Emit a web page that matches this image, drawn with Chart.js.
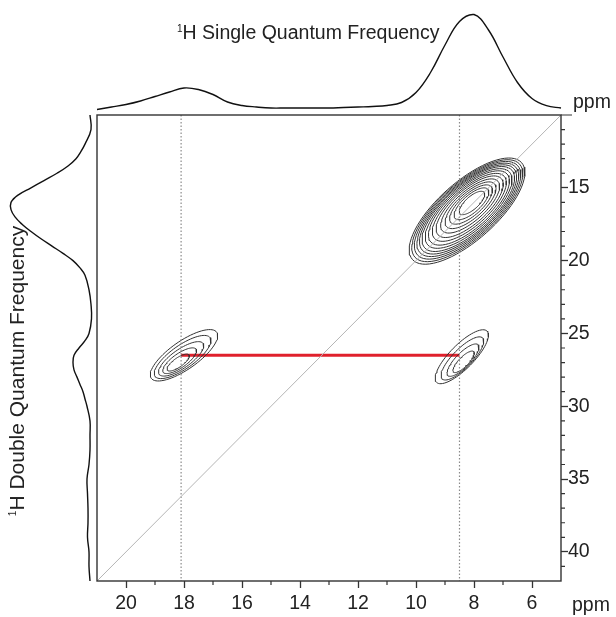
<!DOCTYPE html>
<html>
<head>
<meta charset="utf-8">
<script src="https://cdn.jsdelivr.net/npm/chart.js@4.4.1/dist/chart.umd.min.js"></script>
<style>
  body { margin: 0; background: #fff; }
  #wrap { position: relative; width: 616px; height: 617px; background: #fff; font-family: "Liberation Sans", Arial, sans-serif; color: #222; }
  canvas { position: absolute; left: 0; top: 0; }
  .lbl { position: absolute; font-size: 19.5px; line-height: 20px; white-space: nowrap; }
  .sup { font-size: 10px; vertical-align: top; line-height: 14px; }
</style>
</head>
<body>
<div id="wrap">
  <canvas id="topChart" width="616" height="115"></canvas>
  <canvas id="leftChart" width="100" height="617"></canvas>
  <canvas id="mainChart" width="616" height="617"></canvas>
  <div class="lbl" style="left:177px; top:22px;"><span class="sup">1</span>H Single Quantum Frequency</div>
  <div class="lbl" style="left:573px; top:91px;">ppm</div>
  <div class="lbl" style="left:572px; top:594px;">ppm</div>
  <div class="lbl" style="left:-143px; top:360px; width:320px; text-align:center; font-size:21px; line-height:22px; transform:rotate(-90deg);"><span class="sup">1</span>H Double Quantum Frequency</div>
</div>
<script>
// single quantum projection (top), ppm and intensity
const sqPpm = [5.0, 5.5, 6.0, 6.5, 7.0, 7.5, 8.0, 8.5, 9.0, 9.5, 10.0, 10.5, 11.0, 11.5, 12.0, 12.5, 13.0,
  13.5, 14.0, 14.5, 15.0, 15.5, 16.0, 16.5, 17.0, 17.5, 18.0, 18.5, 19.0, 19.5, 20.0, 20.5, 21.0];
const sqIntensity = [2, 4.3, 11.5, 27.5, 53, 80, 95.5, 88.5, 65, 37.5, 17.5, 7.5, 4.5, 3.5, 3, 2.5, 2,
  2, 2, 2, 2, 3, 4.5, 8, 15.5, 20.5, 22, 18, 13.5, 9, 5.5, 3, 0.5];

// double quantum projection (left)
const dqPpm = [10, 11, 12, 12.5, 13, 13.5, 14, 14.5, 15, 15.5, 16, 16.5, 17, 17.5, 18, 18.5, 19, 19.5,
  20, 20.5, 21, 22, 23, 24, 25, 25.5, 26, 26.5, 27, 27.5, 28, 28.5, 29, 29.5, 30, 31, 32, 33, 34, 35,
  36, 37, 38, 39, 40, 41, 42];
const dqIntensity = [3, 2, 8, 12, 17, 25, 36, 49, 62, 75, 82, 82, 78, 71, 62, 52, 41, 30,
  20, 13, 8, 4, 2, 1.5, 4, 8, 14, 19, 20, 19, 16, 13, 10, 8, 6, 3, 3, 3, 4, 6,
  5.5, 5, 5, 5.5, 4, 4, 3];

// axis ticks
const sqTicks = [20, 18, 16, 14, 12, 10, 8, 6];
const dqTicks = [15, 20, 25, 30, 35, 40];

// diagonal DQ = 2 x SQ, marker lines and the correlation
const diagSQ = [21, 5];
const diagDQ = [42, 10];
const markerSQ = [18.1, 8.5];
const linkDQ = 26.5;

// cross peaks: outer centre, core centre, half axes along ridge and across, contour levels
const peakSQ = [8.24, 18.0, 8.42];
const peakDQ = [16.6, 26.5, 26.6];
const coreSQ = [8.07, 18.2, 8.36];
const coreDQ = [16.04, 27.0, 26.95];
const ridgeSQ = [-1.88, -1.13, -0.87];
const ridgeDQ = [-3.33, -1.58, -1.76];
const acrossSQ = [-0.665, -0.277, -0.295];
const acrossDQ = [1.488, 0.787, 0.578];
const levels = [
  [1, 0.96, 0.92, 0.88, 0.84, 0.8, 0.75, 0.7, 0.64, 0.58, 0.51, 0.44, 0.37, 0.3, 0.22],
  [1, 0.84, 0.67, 0.5, 0.33],
  [1, 0.8, 0.6, 0.4]
];

const ink = "#222";
const font = { family: "'Liberation Sans', Arial, sans-serif", size: 19.5 };

// build one closed contour ring per level
const contourSets = [];
levels.forEach((lv, p) => {
  const sMin = lv[lv.length - 1];
  lv.forEach((s) => {
    const f = (s - sMin) / (1 - sMin);
    const cx = coreSQ[p] + (peakSQ[p] - coreSQ[p]) * f;
    const cy = coreDQ[p] + (peakDQ[p] - coreDQ[p]) * f;
    const pts = [];
    for (let i = 0; i <= 72; i++) {
      const t = (i / 72) * Math.PI * 2;
      pts.push({
        x: cx + s * (Math.cos(t) * ridgeSQ[p] + Math.sin(t) * acrossSQ[p]),
        y: cy + s * (Math.cos(t) * ridgeDQ[p] + Math.sin(t) * acrossDQ[p]),
      });
    }
    contourSets.push({
      data: pts,
      showLine: true,
      borderColor: "#333",
      borderWidth: 1,
      pointRadius: 0,
      tension: 0,
    });
  });
});

const lineSet = (pts, color, width, dash) => ({
  data: pts,
  showLine: true,
  borderColor: color,
  borderWidth: width,
  borderDash: dash || [],
  pointRadius: 0,
  tension: 0,
});

// frame + minor ticks
const framePlugin = {
  id: "frame",
  afterDraw(chart) {
    const { ctx, chartArea: a } = chart;
    const x = chart.scales.x;
    const y = chart.scales.y;
    ctx.save();
    ctx.strokeStyle = "#333";
    ctx.lineWidth = 1.4;
    ctx.strokeRect(a.left, a.top, a.right - a.left, a.bottom - a.top);
    ctx.beginPath();
    ctx.moveTo(a.right, a.top);
    ctx.lineTo(a.right + 11, a.top);
    ctx.lineWidth = 1.2;
    for (let v = 6; v <= 20; v++) {
      if (sqTicks.includes(v)) continue;
      const px = x.getPixelForValue(v);
      ctx.moveTo(px, a.bottom);
      ctx.lineTo(px, a.bottom + 4);
    }
    for (let v = 11; v <= 41; v++) {
      if (dqTicks.includes(v)) continue;
      const py = y.getPixelForValue(v);
      ctx.moveTo(a.right, py);
      ctx.lineTo(a.right + 4, py);
    }
    ctx.stroke();
    ctx.restore();
  },
};

const noExtras = { legend: { display: false }, tooltip: { enabled: false } };

new Chart(document.getElementById("mainChart"), {
  type: "scatter",
  data: {
    datasets: [
      lineSet(diagSQ.map((v, i) => ({ x: v, y: diagDQ[i] })), "#b5b5b5", 1),
      lineSet([{ x: markerSQ[0], y: 10 }, { x: markerSQ[0], y: 42 }], "#8a8a8a", 1.2, [1.5, 2]),
      lineSet([{ x: markerSQ[1], y: 10 }, { x: markerSQ[1], y: 42 }], "#8a8a8a", 1.2, [1.5, 2]),
      ...contourSets,
      lineSet([{ x: markerSQ[0], y: linkDQ }, { x: markerSQ[1], y: linkDQ }], "#e0202c", 3),
    ],
  },
  options: {
    responsive: false,
    animation: false,
    layout: { padding: { left: 97, top: 115, right: 0, bottom: 0 } },
    plugins: noExtras,
    scales: {
      x: {
        type: "linear",
        position: "bottom",
        min: 5,
        max: 21,
        reverse: true,
        afterBuildTicks: (s) => { s.ticks = sqTicks.map((v) => ({ value: v })); },
        afterFit: (s) => { s.height = 36; },
        border: { display: false },
        grid: { drawOnChartArea: false, tickLength: 7, tickColor: "#333", tickWidth: 1.3 },
        ticks: { font: font, color: ink, padding: 4, maxRotation: 0, autoSkip: false },
      },
      y: {
        type: "linear",
        position: "right",
        min: 10,
        max: 42,
        reverse: true,
        afterBuildTicks: (s) => { s.ticks = dqTicks.map((v) => ({ value: v })); },
        afterFit: (s) => { s.width = 55; },
        border: { display: false },
        grid: { drawOnChartArea: false, tickLength: 7, tickColor: "#333", tickWidth: 1.3 },
        ticks: { font: font, color: ink, padding: 0, autoSkip: false },
      },
    },
  },
  plugins: [framePlugin],
});

// top projection
new Chart(document.getElementById("topChart"), {
  type: "scatter",
  data: {
    datasets: [{
      data: sqPpm.map((v, i) => ({ x: v, y: sqIntensity[i] })),
      showLine: true,
      borderColor: "#111",
      borderWidth: 1.4,
      pointRadius: 0,
      tension: 0.4,
      clip: false,
    }],
  },
  options: {
    responsive: false,
    animation: false,
    layout: { padding: { left: 97, right: 55, top: 14, bottom: 5 } },
    plugins: noExtras,
    scales: {
      x: { display: false, min: 5, max: 21, reverse: true },
      y: { display: false, min: 0, max: 96 },
    },
  },
});

// left projection
new Chart(document.getElementById("leftChart"), {
  type: "scatter",
  data: {
    datasets: [{
      data: dqPpm.map((v, i) => ({ x: dqIntensity[i], y: v })),
      showLine: true,
      borderColor: "#111",
      borderWidth: 1.4,
      pointRadius: 0,
      tension: 0.4,
      clip: false,
    }],
  },
  options: {
    responsive: false,
    animation: false,
    layout: { padding: { left: 10, right: 7, top: 115, bottom: 36 } },
    plugins: noExtras,
    scales: {
      x: { display: false, min: 0, max: 83, reverse: true },
      y: { display: false, min: 10, max: 42, reverse: true },
    },
  },
});
</script>
</body>
</html>
